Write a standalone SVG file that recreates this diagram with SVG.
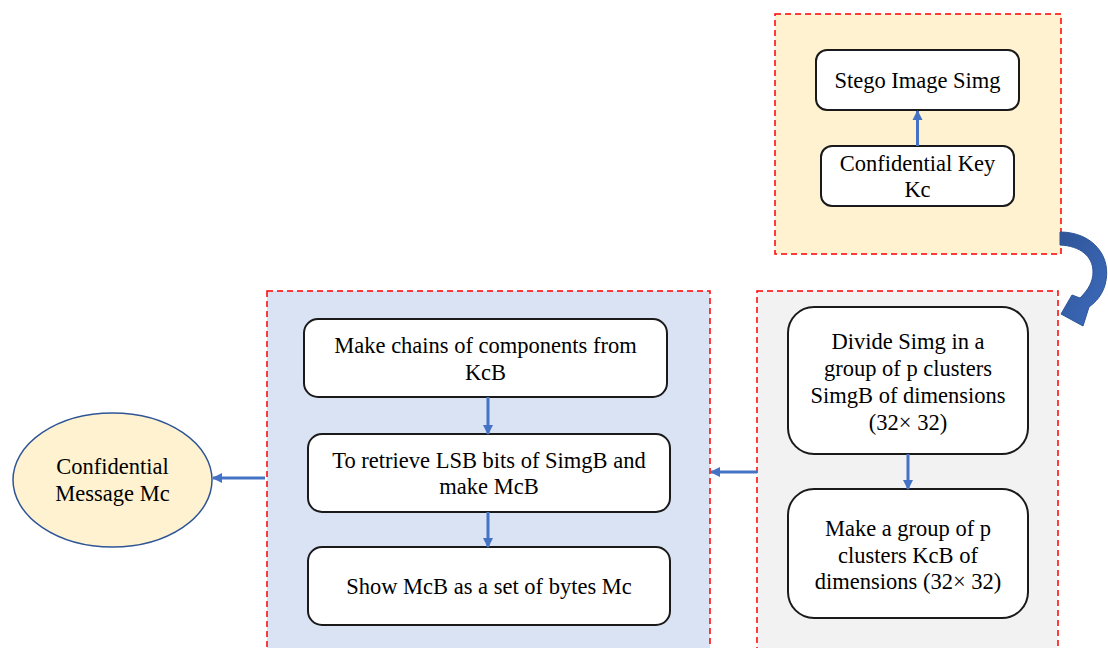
<svg xmlns="http://www.w3.org/2000/svg" width="1108" height="648" viewBox="0 0 1108 648">
<defs>
<style>
.cont{stroke:#ff0000;stroke-width:1.5;stroke-dasharray:6 4}
.box{fill:#ffffff;stroke:#1a1a1a;stroke-width:2}
.conn{stroke:#4472c4;stroke-width:3;fill:none}
</style>
<marker id="ah" viewBox="0 0 10 10" refX="9" refY="5" markerWidth="3.4" markerHeight="3.4" orient="auto" markerUnits="strokeWidth">
<path d="M0,0 L10,5 L0,10 Z" fill="#4472c4"/>
</marker>
<linearGradient id="cg" x1="0" y1="0" x2="1" y2="1">
<stop offset="0" stop-color="#2f5597"/>
<stop offset="1" stop-color="#3d6bbd"/>
</linearGradient>
</defs>
<rect width="1108" height="648" fill="#ffffff"/>

<g id="container-top">
<rect class="cont" x="775" y="14" width="286" height="240" fill="#fef2d0"/>
</g>
<g id="container-right">
<rect class="cont" x="757" y="291" width="301" height="370" fill="#f2f2f2"/>
</g>
<g id="container-middle">
<rect class="cont" x="267" y="291" width="443" height="370" fill="#dae3f3"/>
</g>

<g id="stego">
<rect class="box" x="816" y="50" width="203" height="60" rx="11"/>
<text font-family="Liberation Serif" font-size="22.5" text-anchor="middle" fill="#000" x="917.5" y="88">Stego Image Simg</text>
</g>
<g id="key">
<rect class="box" x="821" y="146" width="193" height="60" rx="11"/>
<text font-family="Liberation Serif" font-size="22.5" text-anchor="middle" fill="#000" x="917.5" y="171">Confidential Key</text>
<text font-family="Liberation Serif" font-size="22.5" text-anchor="middle" fill="#000" x="917.5" y="197">Kc</text>
</g>
<g id="divide">
<rect class="box" x="788" y="307" width="240" height="147" rx="26"/>
<text font-family="Liberation Serif" font-size="22.5" text-anchor="middle" fill="#000" x="908" y="349">Divide Simg in a</text>
<text font-family="Liberation Serif" font-size="22.5" text-anchor="middle" fill="#000" x="908" y="376">group of p clusters</text>
<text font-family="Liberation Serif" font-size="22.5" text-anchor="middle" fill="#000" x="908" y="403">SimgB of dimensions</text>
<text font-family="Liberation Serif" font-size="22.5" text-anchor="middle" fill="#000" x="908" y="430">(32× 32)</text>
</g>
<g id="makegroup">
<rect class="box" x="788" y="489" width="240" height="129" rx="26"/>
<text font-family="Liberation Serif" font-size="22.5" text-anchor="middle" fill="#000" x="908" y="536">Make a group of p</text>
<text font-family="Liberation Serif" font-size="22.5" text-anchor="middle" fill="#000" x="908" y="563">clusters KcB of</text>
<text font-family="Liberation Serif" font-size="22.5" text-anchor="middle" fill="#000" x="908" y="589">dimensions (32× 32)</text>
</g>
<g id="chains">
<rect class="box" x="304" y="319" width="363" height="78" rx="14"/>
<text font-family="Liberation Serif" font-size="22.5" text-anchor="middle" fill="#000" x="485.5" y="353">Make chains of components from</text>
<text font-family="Liberation Serif" font-size="22.5" text-anchor="middle" fill="#000" x="485.5" y="380">KcB</text>
</g>
<g id="retrieve">
<rect class="box" x="308" y="434" width="362" height="78" rx="14"/>
<text font-family="Liberation Serif" font-size="22.5" text-anchor="middle" fill="#000" x="489" y="468">To retrieve LSB bits of SimgB and</text>
<text font-family="Liberation Serif" font-size="22.5" text-anchor="middle" fill="#000" x="489" y="494">make McB</text>
</g>
<g id="show">
<rect class="box" x="308" y="547" width="362" height="78" rx="14"/>
<text font-family="Liberation Serif" font-size="22.5" text-anchor="middle" fill="#000" x="489" y="594">Show McB as a set of bytes Mc</text>
</g>
<g id="message">
<ellipse cx="112.5" cy="480" rx="99.5" ry="67" fill="#fef2d0" stroke="#2f5597" stroke-width="1.5"/>
<text font-family="Liberation Serif" font-size="22.5" text-anchor="middle" fill="#000" x="112.5" y="474">Confidential</text>
<text font-family="Liberation Serif" font-size="22.5" text-anchor="middle" fill="#000" x="112.5" y="501">Message Mc</text>
</g>

<g id="connectors">
<line class="conn" x1="917.5" y1="146" x2="917.5" y2="111" marker-end="url(#ah)"/>
<line class="conn" x1="908" y1="454" x2="908" y2="489" marker-end="url(#ah)"/>
<line class="conn" x1="757" y1="472" x2="711" y2="472" marker-end="url(#ah)"/>
<line class="conn" x1="488" y1="397" x2="488" y2="434" marker-end="url(#ah)"/>
<line class="conn" x1="488" y1="512" x2="488" y2="547" marker-end="url(#ah)"/>
<line class="conn" x1="265" y1="478" x2="213" y2="478" marker-end="url(#ah)"/>
<path d="M1060,232 C1092,232 1113,256 1105,285 C1102,295 1096,302 1089,307 L1083,326 L1061,314 L1072,295 L1080,298 C1088,290 1093,282 1093,272 C1093,256 1080,246 1060,245 Z" fill="url(#cg)" stroke="#2f5597" stroke-width="1"/>
</g>
</svg>
